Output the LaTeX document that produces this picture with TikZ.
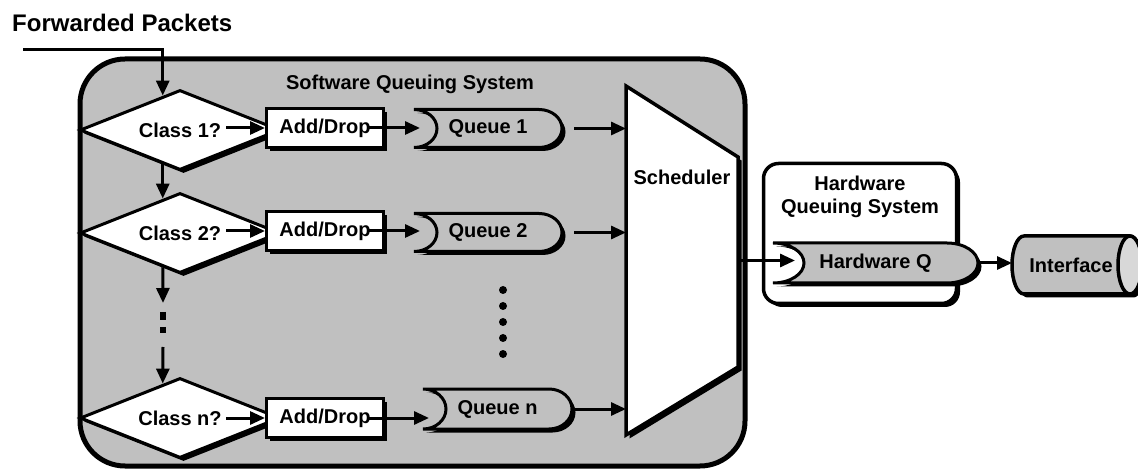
\documentclass[tikz,border=0pt]{standalone}
\usepackage{fontspec}
\setmainfont{Liberation Sans}
\usetikzlibrary{arrows.meta,shapes.geometric,shadows,calc}
\pgfdeclarelayer{back}
\pgfdeclarelayer{mid}
\pgfsetlayers{back,mid,main}

\definecolor{panel}{HTML}{C0C0C0}
\definecolor{endface}{HTML}{D8D8D8}

% queue outline around a frame node: flat top/bottom, convex right end, concave left end
\newcommand\queueoutline[3]{%
  \path[queue] (#1.north west) -- ([xshift=-#2pt]#1.north east)
    arc[start angle=90, end angle=-90, x radius=#2pt, y radius=#3pt]
    -- (#1.south west)
    arc[start angle=-90, end angle=90, x radius=#2pt, y radius=#3pt] -- cycle;}

\tikzset{
  every node/.style={font=\fontsize{20}{23}\selectfont\bfseries},
  arr/.style={line width=3pt, -{Triangle[length=15pt,width=13pt]}},
  dshadow/.style={drop shadow={shadow xshift=3.5pt, shadow yshift=-3.5pt, opacity=1, fill=black}},
  decision/.style={diamond, aspect=2.5, draw, line width=3pt, fill=white,
    minimum width=200pt, minimum height=80pt, inner sep=0pt, dshadow},
  action/.style={rectangle, draw, line width=3pt, fill=white,
    minimum width=117pt, minimum height=39pt, inner sep=0pt, dshadow},
  frame/.style={rectangle, draw=none, inner sep=0pt, outer sep=0pt},
  queue/.style={draw, line width=3pt, fill=panel, dshadow},
  caption/.style={inner sep=0pt, align=center},
}

\begin{document}
\begin{tikzpicture}[x=1pt, y=-1pt]
\useasboundingbox (0,0) rectangle (1138,470);

% ---- containers ----
\begin{pgfonlayer}{back}
  \node[rectangle, rounded corners=45pt, draw, line width=5pt, fill=panel,
        minimum width=665pt, minimum height=407pt, inner sep=0pt] (sw) at (412.5,262.5) {};
  \node[rectangle, rounded corners=15pt, draw, line width=3.5pt, fill=white,
        minimum width=193pt, minimum height=140pt, inner sep=0pt, dshadow] (hwbox) at (860,233.5) {};
\end{pgfonlayer}

\node[caption, anchor=base west, font=\fontsize{24}{28}\selectfont\bfseries] (title) at (12,32) {Forwarded Packets};
\node[caption] (swtitle) at (410,84) {Software Queuing System};
\node[caption, font=\fontsize{20}{23}\selectfont\bfseries] (hwtitle) at (860,197) {Hardware\\Queuing System};

% ---- classifiers ----
\node[decision] (c1) at (180,130) {Class 1?};
\node[decision] (c2) at (180,233) {Class 2?};
\node[decision] (cn) at (180,418) {Class n?};

% ---- add/drop ----
\node[action] (a1) at (325,128) {Add/Drop};
\node[action] (a2) at (325,231) {Add/Drop};
\node[action] (an) at (325,418) {Add/Drop};

% ---- queues (frames carry the labels) ----
\node[frame, minimum width=148pt, minimum height=38pt] (q1) at (488,128.5) {Queue 1};
\node[frame, minimum width=148pt, minimum height=38pt] (q2) at (488,232.5) {Queue 2};
\node[frame, minimum width=149pt, minimum height=40pt] (qn) at (497.5,409) {Queue n};
\node[frame, minimum width=205pt, minimum height=40pt] (hq) at (875.5,263) {Hardware Q};

% ---- scheduler and interface frames ----
\node[frame, minimum width=112pt, minimum height=349pt] (sched) at (682,260.5) {};
\node[caption] (schedtext) at (682,177) {Scheduler};
\node[frame, minimum width=118pt, minimum height=58pt] (iface) at (1071,265) {Interface};

\begin{pgfonlayer}{mid}
  \queueoutline{q1}{23}{19}
  \queueoutline{q2}{23}{19}
  \queueoutline{qn}{23}{20}
  \queueoutline{hq}{31}{20}
  \path[draw, line width=3.5pt, fill=white, dshadow]
    (sched.north west) -- ([yshift=-71pt]sched.north east)
    -- ([yshift=68pt]sched.south east) -- (sched.south west) -- cycle;
  \path[draw, line width=3.5pt, fill=panel, dshadow]
    ([xshift=12pt]iface.north west) -- (iface.north east)
    arc[start angle=90, end angle=-90, x radius=12pt, y radius=29pt]
    -- ([xshift=12pt]iface.south west)
    arc[start angle=-90, end angle=-270, x radius=12pt, y radius=29pt] -- cycle;
  \path[draw, line width=3.5pt, fill=endface] (iface.east) ellipse [x radius=12pt, y radius=29pt];
\end{pgfonlayer}

% ---- flow between classifiers ----
\coordinate (src) at (23,50);
\coordinate (gap1) at (163,303);
\coordinate (gap2) at (163,347);
\draw[arr] (src) -| ($(c1.north)!0.17!(c1.west)$);
\draw[arr] ($(c1.south)!0.17!(c1.west)$) -- ($(c2.north)!0.17!(c2.west)$);
\draw[arr] ($(c2.south)!0.17!(c2.west)$) -- (gap1);
\draw[line width=6pt, dash pattern=on 8pt off 7pt on 6pt off 50pt] (163,312) -- (163,333);
\draw[arr] (gap2) -- ($(cn.north)!0.17!(cn.west)$);

% ---- classifier to add/drop ----
\draw[arr] ([xshift=46pt]c1.center |- a1.west) -- (a1.west);
\draw[arr] ([xshift=46pt]c2.center |- a2.west) -- (a2.west);
\draw[arr] ([xshift=46pt]cn.center |- an.west) -- (an.west);

% ---- add/drop to queues ----
\draw[arr] ([xshift=-18pt]a1.east) -- ([xshift=6pt]a1.east -| q1.west);
\draw[arr] ([xshift=-18pt]a2.east) -- ([xshift=6pt]a2.east -| q2.west);
\draw[arr] ([xshift=-18pt]an.east) -- ([xshift=6pt]an.east -| qn.west);

% ---- queues to scheduler ----
\draw[arr] ([xshift=12pt]q1.east) -- (q1.east -| sched.west);
\draw[arr] ([xshift=12pt]q2.east) -- (q2.east -| sched.west);
\draw[arr] ([xshift=3pt]qn.east) -- (qn.east -| sched.west);

% ellipsis between queue 2 and queue n
\foreach \y in {290,306,322,338,354} \fill (503,\y) circle[radius=4pt];

% ---- scheduler to hardware queue to interface ----
\draw[arr] (sched.east) -- ([xshift=22pt]sched.east -| hq.west);
\draw[arr] (hq.east) -- (hq.east -| iface.west);

\end{tikzpicture}
\end{document}
